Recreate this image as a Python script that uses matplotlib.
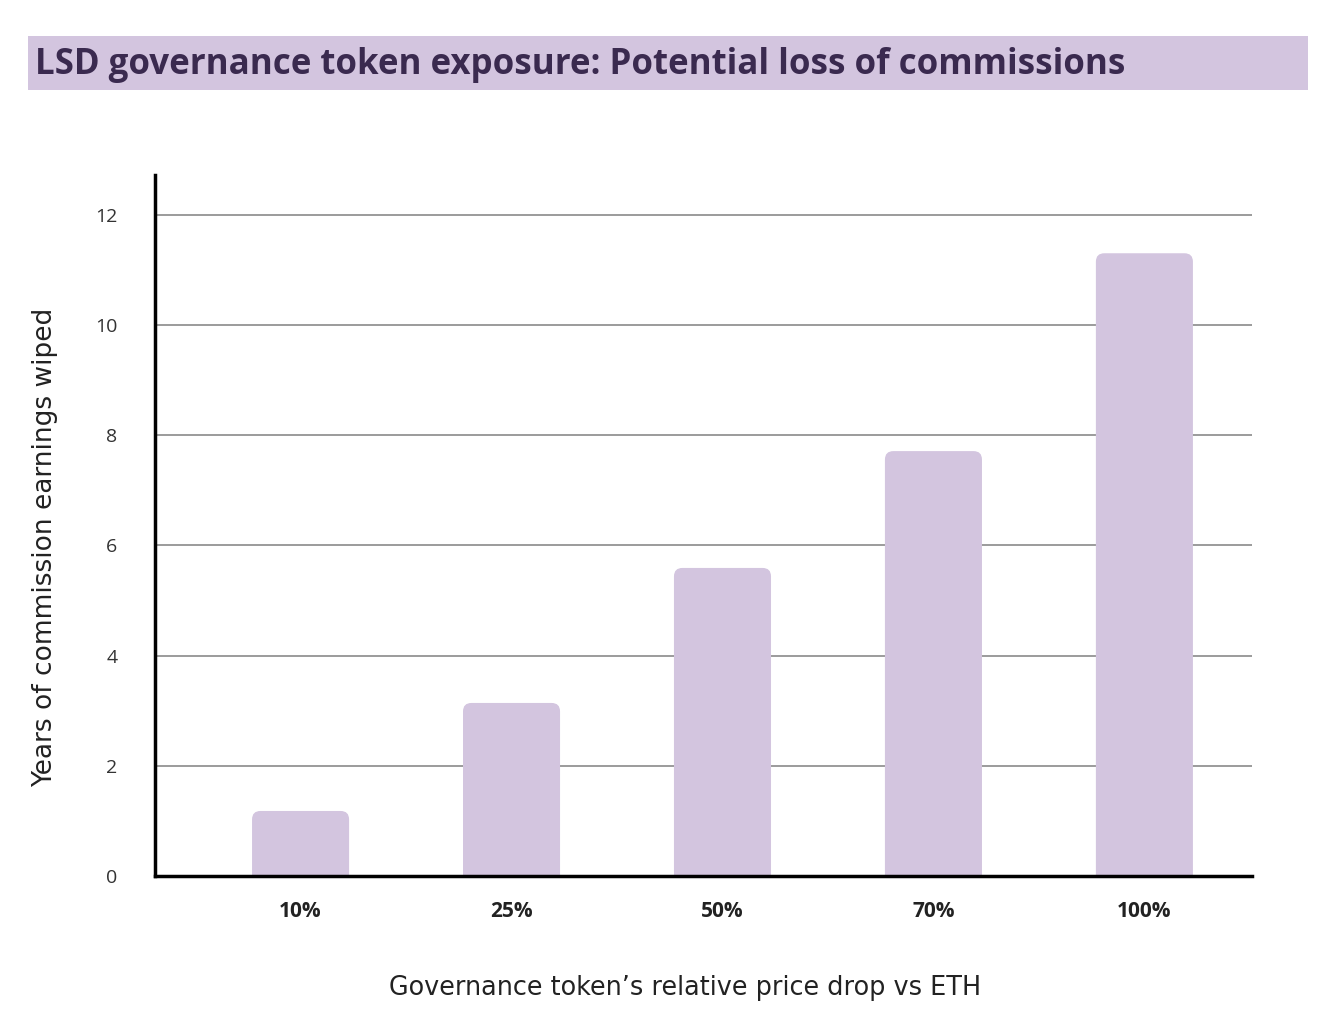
import matplotlib.pyplot as plt
from matplotlib.patches import FancyBboxPatch, Rectangle

plt.rcParams['font.family'] = ['Open Sans', 'DejaVu Sans']

drops = ["10%", "25%", "50%", "70%", "100%"]
years_wiped = [1.18, 3.14, 5.59, 7.71, 11.3]

bar_color = "#d3c5df"
title_color = "#3a2a4f"

fig = plt.figure(figsize=(13.22, 10.34), dpi=100)

# title banner
fig.patches.append(Rectangle((28 / 1322, 1 - 90 / 1034), 1280 / 1322, 54 / 1034,
                             transform=fig.transFigure, facecolor=bar_color,
                             edgecolor="none", zorder=0))
fig.text(35 / 1322, 1 - 65 / 1034, "LSD governance token exposure: Potential loss of commissions",
         fontsize=25.1, fontweight="bold", color=title_color, va="center", ha="left")

ax = fig.add_axes([155 / 1322, 1 - 876 / 1034, 1097 / 1322, 701 / 1034])

xs = list(range(len(drops)))
width = 0.46
bars = ax.bar(xs, years_wiped, width=width, color=bar_color, zorder=2)
# rounded tops: swap rectangles for rounded boxes
aspect = (1097 / 5.2) / (701 / 12.72)
for b in bars:
    b.set_visible(False)
    r = FancyBboxPatch((b.get_x(), -0.5), b.get_width(), b.get_height() + 0.5,
                       boxstyle="round,pad=0,rounding_size=0.04",
                       mutation_aspect=aspect, facecolor=bar_color,
                       edgecolor="none", zorder=2)
    ax.add_patch(r)

ax.set_xlim(-0.69, 4.51)
ax.set_ylim(0, 12.72)
ax.set_yticks([0, 2, 4, 6, 8, 10, 12])
for y in [2, 4, 6, 8, 10, 12]:
    ax.axhline(y, color="#8a8a8a", lw=1.2, zorder=1)

ax.set_xticks(xs)
ax.set_xticklabels(drops, fontsize=15, fontweight="bold", color="#222222")
ax.tick_params(axis="y", length=0, pad=27, labelsize=14, labelcolor="#333333")
ax.tick_params(axis="x", length=0, pad=18)

for s in ["top", "right"]:
    ax.spines[s].set_visible(False)
ax.spines["left"].set_linewidth(2.5)
ax.spines["bottom"].set_linewidth(2.5)
ax.spines["left"].set_zorder(3)
ax.spines["bottom"].set_zorder(3)

# axis titles sit a bit off-centre in the original
fig.text(45 / 1322, 1 - 547 / 1034, "Years of commission earnings wiped", fontsize=19,
         color="#222222", rotation=90, ha="center", va="center", family="DejaVu Sans")
fig.text(685 / 1322, 1 - 988 / 1034, "Governance token\u2019s relative price drop vs ETH",
         fontsize=18.4, color="#222222", ha="center", va="center", family="DejaVu Sans")

fig.savefig("out.png", dpi=100)
